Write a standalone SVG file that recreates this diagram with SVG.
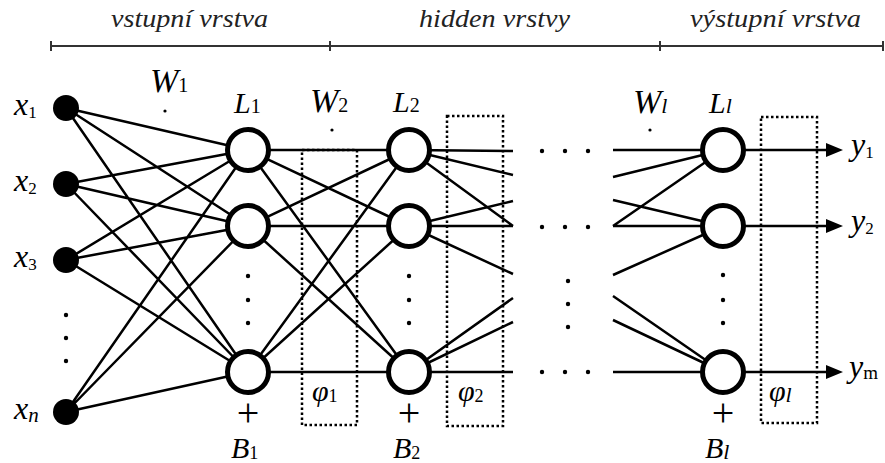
<svg xmlns="http://www.w3.org/2000/svg" width="885" height="463" viewBox="0 0 885 463">
<rect width="885" height="463" fill="#fff"/>

<g id="header">
<text font-family="Liberation Serif" font-style="italic" font-size="25" fill="#222" x="111" y="27" textLength="157" lengthAdjust="spacingAndGlyphs">vstupní vrstva</text>
<text font-family="Liberation Serif" font-style="italic" font-size="25" fill="#222" x="419" y="27" textLength="151" lengthAdjust="spacingAndGlyphs">hidden vrstvy</text>
<text font-family="Liberation Serif" font-style="italic" font-size="25" fill="#222" x="690" y="27" textLength="171" lengthAdjust="spacingAndGlyphs">výstupní vrstva</text>
<path stroke="#333" stroke-width="2" fill="none" d="M51,46 H884 M51,41 V51 M330,41 V51 M660,41 V51 M883,41 V51"/>
</g>

<g id="activation-boxes" fill="none" stroke="#000" stroke-width="2.5" stroke-dasharray="2.5 2.5">
<rect x="302" y="150" width="55" height="275"/>
<rect x="447" y="116" width="56" height="310"/>
<rect x="761" y="117" width="56" height="306"/>
</g>

<g id="connectors" stroke="#000" stroke-width="2.5" fill="none">
<path d="M66,108 L248,150 M66,108 L248,226 M66,108 L248,372
M66,184 L248,150 M66,184 L248,226 M66,184 L248,372
M66,260 L248,150 M66,260 L248,226 M66,260 L248,372
M66,412 L248,150 M66,412 L248,226 M66,412 L248,372"/>
<path d="M248,150 L409,150 M248,150 L409,226 M248,150 L409,372
M248,226 L409,150 M248,226 L409,226 M248,226 L409,372
M248,372 L409,150 M248,372 L409,226 M248,372 L409,372"/>
<path d="M409,150 L513,151 M409,150 L513,175 M409,150 L513,226
M409,226 L513,226 M409,226 L513,201 M409,226 L513,274
M409,372 L513,372 M409,372 L513,298 M409,372 L513,322"/>
<path d="M613,150 L723,150 M613,177 L723,150 M613,226 L723,150
M613,200 L723,226 M613,226 L723,226 M613,275 L723,226
M613,296 L723,372 M613,320 L723,372 M613,372 L723,372"/>
<path d="M723,150 H830 M723,226 H830 M723,372 H830"/>
<path fill="#000" stroke="none" d="M826,143 L843,150 L826,157 Z M826,219 L843,226 L826,233 Z M826,365 L843,372 L826,379 Z"/>
</g>

<g id="inputs">
<g id="x1"><circle fill="#000" cx="66" cy="108" r="13"/><text font-family="Liberation Serif" font-style="italic" x="14" y="115" font-size="32">x<tspan font-style="normal" font-size="17" dy="3">1</tspan></text></g>
<g id="x2"><circle fill="#000" cx="66" cy="184" r="13"/><text font-family="Liberation Serif" font-style="italic" x="14" y="191" font-size="32">x<tspan font-style="normal" font-size="17" dy="3">2</tspan></text></g>
<g id="x3"><circle fill="#000" cx="66" cy="260" r="13"/><text font-family="Liberation Serif" font-style="italic" x="14" y="267" font-size="32">x<tspan font-style="normal" font-size="17" dy="3">3</tspan></text></g>
<g id="xn"><circle fill="#000" cx="66" cy="412" r="13"/><text font-family="Liberation Serif" font-style="italic" x="14" y="419" font-size="32">x<tspan font-size="21" dy="3">n</tspan></text></g>
<g id="input-dots" fill="#000"><circle cx="66" cy="315" r="2.2"/><circle cx="66" cy="338" r="2.2"/><circle cx="66" cy="361" r="2.2"/></g>
</g>

<g id="layer1">
<text font-family="Liberation Serif" font-style="italic" x="150" y="92" font-size="34">W<tspan font-style="normal" font-size="20">1</tspan></text>
<circle fill="#000" cx="165" cy="111" r="1.6"/>
<text font-family="Liberation Serif" font-style="italic" x="234" y="113" font-size="30">L<tspan font-style="normal" font-size="20">1</tspan></text>
<g fill="#fff" stroke="#000" stroke-width="5">
<g id="L1-1"><circle cx="248" cy="150" r="20.5"/></g>
<g id="L1-2"><circle cx="248" cy="226" r="20.5"/></g>
<g id="L1-n"><circle cx="248" cy="372" r="20.5"/></g>
</g>
<g fill="#000"><circle cx="248" cy="276" r="2.2"/><circle cx="248" cy="300" r="2.2"/><circle cx="248" cy="323" r="2.2"/></g>
<text font-family="Liberation Serif" font-size="40" text-anchor="middle" x="248" y="426">+</text>
<text font-family="Liberation Serif" font-style="italic" x="231" y="458" font-size="30">B<tspan font-style="normal" font-size="18" dy="1">1</tspan></text>
<text font-family="Liberation Serif" font-style="italic" x="312" y="401" font-size="30">φ<tspan font-style="normal" font-size="18" dy="1">1</tspan></text>
</g>

<g id="layer2">
<text font-family="Liberation Serif" font-style="italic" x="310" y="112" font-size="34">W<tspan font-style="normal" font-size="20">2</tspan></text>
<circle fill="#000" cx="332" cy="130" r="1.6"/>
<text font-family="Liberation Serif" font-style="italic" x="393" y="112" font-size="30">L<tspan font-style="normal" font-size="20">2</tspan></text>
<g fill="#fff" stroke="#000" stroke-width="5">
<g id="L2-1"><circle cx="409" cy="150" r="20.5"/></g>
<g id="L2-2"><circle cx="409" cy="226" r="20.5"/></g>
<g id="L2-n"><circle cx="409" cy="372" r="20.5"/></g>
</g>
<g fill="#000"><circle cx="409" cy="276" r="2.2"/><circle cx="409" cy="300" r="2.2"/><circle cx="409" cy="323" r="2.2"/></g>
<text font-family="Liberation Serif" font-size="40" text-anchor="middle" x="409" y="426">+</text>
<text font-family="Liberation Serif" font-style="italic" x="393" y="458" font-size="30">B<tspan font-style="normal" font-size="18" dy="1">2</tspan></text>
<text font-family="Liberation Serif" font-style="italic" x="458" y="401" font-size="30">φ<tspan font-style="normal" font-size="18" dy="1">2</tspan></text>
</g>

<g id="gap-dots" fill="#000">
<circle cx="542" cy="151" r="2.2"/><circle cx="565" cy="151" r="2.2"/><circle cx="588" cy="151" r="2.2"/>
<circle cx="542" cy="227" r="2.2"/><circle cx="565" cy="227" r="2.2"/><circle cx="588" cy="227" r="2.2"/>
<circle cx="542" cy="372" r="2.2"/><circle cx="565" cy="372" r="2.2"/><circle cx="588" cy="372" r="2.2"/>
<circle cx="568" cy="281" r="2.2"/><circle cx="568" cy="304" r="2.2"/><circle cx="568" cy="327" r="2.2"/>
</g>

<g id="layerl">
<text font-family="Liberation Serif" font-style="italic" x="633" y="113" font-size="34">W<tspan font-size="22">l</tspan></text>
<circle fill="#000" cx="650" cy="130" r="1.6"/>
<text font-family="Liberation Serif" font-style="italic" x="709" y="113" font-size="30">L<tspan font-size="22">l</tspan></text>
<g fill="#fff" stroke="#000" stroke-width="5">
<g id="Ll-1"><circle cx="723" cy="150" r="20.5"/></g>
<g id="Ll-2"><circle cx="723" cy="226" r="20.5"/></g>
<g id="Ll-n"><circle cx="723" cy="372" r="20.5"/></g>
</g>
<g fill="#000"><circle cx="723" cy="275" r="2.2"/><circle cx="723" cy="300" r="2.2"/><circle cx="723" cy="323" r="2.2"/></g>
<text font-family="Liberation Serif" font-size="40" text-anchor="middle" x="723" y="426">+</text>
<text font-family="Liberation Serif" font-style="italic" x="705" y="458" font-size="30">B<tspan font-size="22" dy="1">l</tspan></text>
<text font-family="Liberation Serif" font-style="italic" x="769" y="401" font-size="30">φ<tspan font-size="22" dy="1">l</tspan></text>
</g>

<g id="outputs">
<g id="y1"><text font-family="Liberation Serif" font-style="italic" x="851" y="155" font-size="32">y<tspan font-style="normal" font-size="17" dy="3">1</tspan></text></g>
<g id="y2"><text font-family="Liberation Serif" font-style="italic" x="851" y="231" font-size="32">y<tspan font-style="normal" font-size="17" dy="3">2</tspan></text></g>
<g id="ym"><text font-family="Liberation Serif" font-style="italic" x="849" y="377" font-size="32">y<tspan font-style="normal" font-size="19" dy="2">m</tspan></text></g>
</g>
</svg>
